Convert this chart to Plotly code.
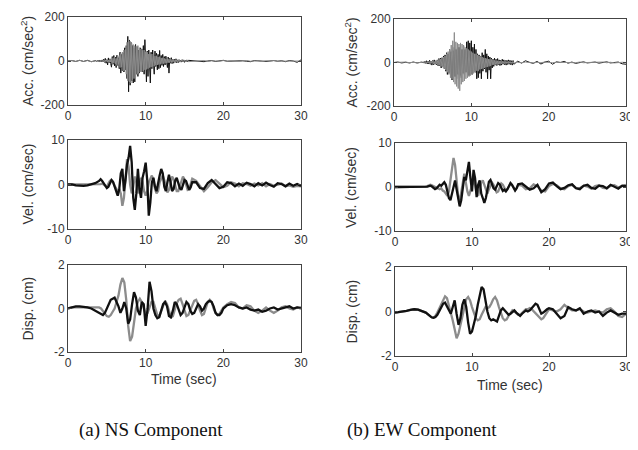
import numpy as np
import plotly.graph_objects as go

# ---------------- time grids (seconds) ----------------
T_ACC = np.concatenate([np.linspace(0, 3.5, 8), np.linspace(3.6, 15.5, 120), np.linspace(16, 30, 29)])
T_VEL = np.concatenate([np.linspace(0, 4, 9), np.linspace(4.2, 16, 60), np.linspace(16.5, 30, 28)])
T_DISP = np.concatenate([np.linspace(0, 4, 9), np.linspace(4.25, 20, 64), np.linspace(20.5, 30, 20)])

# ---------------- NS acceleration (cm/sec^2) ----------------
NS_ACC_BLACK = [0, 2, -2, 3, -2, 3, -3, 4,
    2, -3, 3, -2, 4, -3, 2, -4, 5, -3,
    8, -6, 12, -10, 6, -18, 14, -8, 10, -12,
    -28, 20, -15, 25, -22, 18, -30, 26, -20, 15,
    -35, 40, -55, 30, -45, 38, -50, 60, -40, 70,
    -80, 112, -140, 95, -110, 85, -90, 70, -100, 60,
    -95, 75, -60, 65, -70, 50, -55, 60, -45, 55,
    -50, 70, -60, 97, -40, -95, 45, -70, 50, -45,
    -100, 40, -35, 50, -30, -60, 45, -25, 35, -40,
    30, -35, 48, -30, 25, -20, 30, -25, 20, -18,
    22, -15, -30, 18, -55, 12, -10, 15, -12, 8,
    -10, 8, -6, 10, -8, 5, -7, 6, -5, 4,
    -5, 6, -4, 5, -6, 4, -3, 5, -4, 3,
    2, -1, 1, -3, 0, 2, -2, 1, 3, -1, 0, -2, 2, 1, -1, -3, 2, 0, 1, -2,
    0, 2, -1, 1, -3, 2, 0, -6, 5]
NS_ACC_GRAY = [0, 2, -2, 3, -2, 2, -3, 2,
    1, -2, 2, -1, 2, -2, 1, -2, 2, -1,
    3, -4, 5, -3, 6, -5, 4, -6, 8, -5,
    10, -12, 15, -10, 18, -14, 12, -20, 22, -16,
    25, -30, 35, -28, 40, -45, 50, -42, 55, -60,
    85, -90, 100, -95, 90, -100, 80, -85, 75, -80,
    70, -75, 65, -60, 70, -55, 60, -50, 55, -50,
    48, -45, 50, -40, 42, -38, 40, -35, 32, -30,
    30, -28, 32, -25, 26, -24, 22, -20, 24, -18,
    18, -16, 20, -15, 14, -12, 15, -12, 12, -10,
    10, -9, 11, -8, 9, -8, 7, -6, 8, -6,
    6, -5, 6, -5, 5, -4, 5, -4, 4, -4,
    4, -3, 4, -3, 3, -3, 4, -3, 3, -3,
    -1, 1, 0, 2, -2, 1, 0, -1, 2, -1, 1, 0, -2, 1, 2, -1, 0, 1, -2, 1,
    0, 2, -1, -1, 1, 0, -2, 1, 0]

# ---------------- EW acceleration (cm/sec^2) ----------------
EW_ACC_BLACK = [0, 2, -2, 1, -2, 2, -2, 3,
    2, -2, 3, -3, 5, -4, 8, -6, 5, -7,
    10, -8, 6, -12, 9, -10, 12, -8, 7, -10,
    12, -15, 18, -14, 20, -25, 22, -18, 30, -28,
    35, -40, 45, -55, 40, -50, 60, -45, 50, -80,
    55, -60, 70, -65, 60, -75, 65, -55, 70, -60,
    65, -70, 60, -50, 75, -55, 60, -45, 95, -50,
    100, -60, 90, -40, 100, -55, 70, -35, 85, -45,
    60, -75, 40, -70, 35, -50, 30, -75, 45, -40,
    35, -30, 60, -45, 40, -75, 30, -35, 25, -75,
    20, -25, 15, -18, 20, -12, 15, -14, 18, -10,
    12, -14, 10, -12, 15, -8, 12, -10, 9, -12,
    10, -9, 12, -8, 10, -10, 8, -12, 9, -8,
    6, -3, 8, 1, -4, 5, -7, 2, 6, -8, 3, 0, 5, -3, 2, -4, 1, 3, -2, 0,
    2, -3, 1, 3, -2, 0, 2, -6, -8]
EW_ACC_GRAY = [0, 1, -1, 2, -1, 1, -2, 1,
    1, -1, 2, -2, 1, -2, 3, -2, 2, -3,
    4, -5, 6, -4, 7, -6, 5, -8, 9, -7,
    10, -12, 14, -11, 16, -18, 20, -22, 25, -28,
    30, -35, 40, -45, 50, -55, 60, -70, 80, -75,
    100, -90, 138, -100, 95, -110, 90, -120, 85, -130,
    90, -100, 85, -90, 80, -85, 70, -75, 65, -70,
    60, -65, 55, -60, 50, -55, 45, -50, 40, -45,
    40, -38, 35, -40, 30, -32, 28, -30, 25, -28,
    22, -25, 20, -22, 18, -20, 16, -18, 15, -16,
    14, -12, 12, -11, 10, -10, 9, -9, 8, -8,
    7, -7, 6, -6, 6, -5, 5, -5, 5, -5,
    4, -4, 5, -4, 4, -4, 3, -4, 4, -3,
    1, -1, 2, 0, -2, 1, -1, 2, 0, -1, 1, 1, -2, 0, 1, -1, 2, -1, 0, 1,
    -1, 0, 2, -1, 1, -2, 0, 1, 0]

# ---------------- NS velocity (cm/sec) ----------------
NS_VEL_BLACK = [0, 0, -0.2, -0.3, -0.3, -0.2, 0, 0.3, 0.8,
    1.2, 0.8, 0.3, -0.3, -0.8, -0.5, 0.5, 1.0, 0.6, -0.5,
    -1.5, -2.5, -1.0, 2.5, 3.5, -1.5, 1.0, 4.5, 6.0, 8.7,
    5.0, -3.0, -5.7, -2.0, 3.5, -1.0, -3.0, 1.5, 3.0, 4.9,
    1.0, -7.0, -4.0, 0.5, 1.5, -0.5, -1.5, 0.5, 2.0, 3.5,
    2.5, -0.5, -1.5, 0.5, 2.2, 0.5, -1.5, -1.0, 0.8, 1.5,
    0.5, -0.8, -1.2, 0.2, 1.0, 0.8, -0.5, -1.2, -0.6, 0.5,
    0.5, -0.8, -1.0, 0.3, 1.0, 0.2, -0.8, -0.5, 0.5, 0.3,
    -0.4, 0.2, -0.3, 0.4, 0.1, -0.4, 0.3, -0.2, 0.4, -0.1,
    -0.5, 0.3, 0.1, -0.4, 0.2, -0.3, 0.1, -0.3]
NS_VEL_GRAY = [0, 0, 0, 0, 0, 0, 0, 0, 0.1,
    0.1, 0.2, 0.0, -0.3, -0.5, 0.2, 0.8, 1.0, 0.5, -0.3,
    -0.8, -1.5, -1.0, -2.0, -4.8, -3.0, 1.0, 5.7, 4.0, 0.0,
    -2.0, -0.5, 1.8, 0.5, -2.0, -0.5, 1.5, 0.5, -1.5, -2.5,
    -1.5, 0.5, 1.5, 2.0, 1.0, -1.0, -2.0, -1.5, 0.5, 1.5,
    2.0, 1.0, -0.8, -1.8, -1.2, 0.5, 1.8, 1.2, -0.5, -1.5,
    -1.5, -0.5, 0.8, 1.8, 1.2, -0.3, -1.2, -1.0, 0.5, 1.3,
    0.8, -0.5, -1.5, -0.6, 0.5, 1.0, 0.3, -0.6, -0.3, 0.5,
    0.2, -0.4, 0.3, 0.1, -0.3, 0.2, -0.2, 0.3, -0.4, 0.1,
    -0.3, -0.1, 0.2, -0.4, -0.2, -0.5, -0.3, -0.4]

# ---------------- EW velocity (cm/sec) ----------------
EW_VEL_BLACK = [0, 0, 0, 0, 0, 0, 0, 0, 0,
    0.1, 0.2, 0.3, 0.1, -0.2, -0.5, -0.3, 0.2, 0.5, 0.3,
    0.8, 1.1, 0.5, -1.0, -2.5, -3.0, -1.5, 0.5, 1.5, -0.5,
    -2.5, -4.4, -3.0, 0.5, 2.3, 1.5, 3.5, 5.7, 2.0, -1.0,
    3.9, 2.0, -2.3, 0.5, 1.5, -1.5, -2.5, -3.6, -2.5, -0.5,
    1.2, 1.6, 0.8, -0.3, -0.6, 0.3, 0.9, 0.6, -0.4, -0.9,
    -0.6, -1.0, -0.5, 0.4, 0.9, 0.5, -0.3, -0.8, -0.3, 0.6,
    0.8, 0.2, -0.6, -0.3, 0.5, -1.2, -0.5, 0.8, 1.0, 0.2,
    -0.5, -0.2, 0.4, 0.6, -0.3, -0.5, 0.3, 0.5, -0.2, -0.4,
    0.3, 0.2, -0.3, 0.5, 0.1, -0.4, 0.3, 0.2]
EW_VEL_GRAY = [0, 0, 0, 0, 0, 0, 0, 0, 0.1,
    0.2, 0.4, 0.5, 0.4, 0.2, 0.0, -0.2, -0.4, -0.5, -0.3,
    -0.8, -1.0, -1.5, -2.0, -1.0, 1.5, 3.5, 6.6, 5.0, 1.0,
    -2.0, -3.4, -1.0, 1.5, 3.0, 1.0, -1.0, -2.0, -1.0, 0.5,
    1.5, 0.5, -1.5, -2.0, -0.5, 1.0, 1.5, 0.5, -1.0, -1.5,
    -0.5, 0.5, 1.0, 0.5, -0.5, -1.2, -1.0, 0.0, 0.8, 0.5,
    -0.3, -0.8, -0.5, 0.3, 0.8, 0.4, -0.3, -0.7, -0.2, 0.5,
    0.3, -0.5, -0.3, 0.6, 0.2, -0.8, -1.0, 0.2, 0.7, 0.4,
    -0.3, -0.5, 0.2, 0.5, -0.2, -0.3, 0.3, 0.1, -0.4, 0.2,
    0.4, -0.2, -0.3, 0.3, 0.4, -0.1, 0.2, 0.5]

# ---------------- NS displacement (cm) ----------------
NS_DISP_BLACK = [0, 0.05, 0.1, 0.1, 0.08, 0.05, 0.0, -0.1, -0.2,
    -0.25, -0.3, -0.2, 0.0, 0.2, 0.4, 0.45, 0.5,
    0.3, 0.1, -0.2, 0.0, 0.3, 0.0, -0.7, -0.5,
    0.2, 0.75, 0.5, -0.1, -0.3, 0.3, 0.2, -0.8,
    0.0, 1.23, 0.8, 0.0, -0.3, -0.45, -0.4, -0.1,
    0.2, 0.3, 0.1, -0.35, -0.4, -0.1, 0.3, 0.2,
    -0.1, -0.3, -0.2, 0.1, 0.3, 0.2, -0.1, -0.25,
    -0.2, 0.0, 0.2, 0.1, -0.1, 0.0, 0.2, 0.3,
    0.35, 0.3, 0.1, -0.2, -0.3, -0.3, -0.2, 0.0,
    0.15, 0.2, 0.15, 0.05, 0.0, 0.05, -0.05, -0.1, -0.05, -0.15,
    -0.1, 0.0, 0.05, -0.05, 0.0, 0.05, 0.1, 0.0, 0.05, 0.0]
NS_DISP_GRAY = [0, 0.05, 0.05, 0.05, 0.05, 0.05, 0.05, 0.05, 0.05,
    0.0, -0.1, -0.25, -0.35, -0.38, -0.3, -0.15, 0.0,
    0.3, 0.6, 1.1, 1.4, 1.2, 0.4, -0.8, -1.5,
    -1.3, -0.6, 0.0, 0.3, 0.45, 0.3, 0.0, -0.25,
    -0.2, 0.05, 0.3, 0.3, 0.0, -0.3, -0.35, -0.1,
    0.2, 0.35, 0.2, -0.1, -0.4, -0.35, -0.05, 0.25,
    0.4, 0.45, 0.2, -0.1, -0.35, -0.3, -0.05, 0.2,
    0.35, 0.4, 0.2, -0.1, -0.3, -0.25, 0.0, 0.3,
    0.4, 0.3, 0.0, -0.2, -0.3, -0.25, -0.1, 0.05,
    0.2, 0.3, 0.25, 0.05, 0.0, 0.15, 0.1, -0.1, -0.2, -0.1,
    0.05, -0.1, -0.2, -0.1, 0.05, 0.1, 0.0, -0.05, 0.05, 0.05]

# ---------------- EW displacement (cm) ----------------
EW_DISP_BLACK = [-0.05, -0.03, 0.0, 0.03, 0.07, 0.1, 0.08, 0.03, -0.05,
    -0.12, -0.2, -0.26, -0.28, -0.25, -0.15, 0.0, 0.2,
    0.35, 0.4, 0.25, 0.1, -0.1, 0.2, 0.5, -0.1,
    -0.6, -0.3, 0.3, 0.55, 0.2, -0.5, -1.0, -0.9,
    -0.6, -0.2, 0.3, 0.8, 1.1, 1.0, 0.5, 0.0,
    -0.3, -0.4, -0.35, -0.4, -0.45, -0.2, 0.05, 0.15,
    0.05, -0.1, -0.15, -0.1, 0.0, 0.05, -0.05, -0.15,
    -0.2, -0.1, 0.0, 0.05, 0.0, 0.05, 0.15, 0.25,
    0.35, 0.3, 0.1, -0.1, -0.05, 0.05, 0.1, 0.15,
    0.1, -0.1, -0.3, -0.2, 0.2, 0.1, 0.05, 0.15, -0.1, 0.0,
    0.05, -0.05, 0.0, -0.2, -0.05, 0.05, -0.05, -0.15, -0.1, -0.1]
EW_DISP_GRAY = [-0.05, -0.03, 0.0, 0.03, 0.07, 0.1, 0.08, 0.03, -0.05,
    -0.12, -0.2, -0.26, -0.28, -0.2, -0.05, 0.15, 0.3,
    0.5, 0.68, 0.6, 0.3, 0.0, -0.4, -0.8, -1.2,
    -1.0, -0.6, -0.1, 0.3, 0.55, 0.65, 0.5, 0.2,
    -0.1, -0.3, -0.4, -0.35, -0.15, 0.05, 0.2, 0.15,
    0.2, 0.35, 0.55, 0.65, 0.5, 0.2, -0.1, -0.3,
    -0.4, -0.35, -0.2, -0.05, 0.05, 0.0, -0.1, -0.15,
    -0.15, -0.05, 0.05, 0.1, 0.1, 0.15, 0.1, 0.0,
    -0.1, -0.2, -0.3, -0.35, -0.3, -0.15, 0.0, 0.1,
    0.05, 0.0, 0.1, 0.3, 0.15, 0.05, 0.05, 0.1, 0.0, -0.05,
    0.0, 0.05, 0.0, -0.05, 0.1, 0.15, 0.0, -0.2, -0.25, -0.1]

# ---------------- labels ----------------
X_TICKS = [0, 10, 20, 30]
ACC_TICKS = [-200, 0, 200]
VEL_TICKS = [-10, 0, 10]
DISP_TICKS = [-2, 0, 2]
Y_TITLES = ["Acc. (cm/sec<sup>2</sup>)", "Vel. (cm/sec)", "Disp. (cm)"]
X_TITLE = "Time (sec)"
CAPTIONS = ["(a) NS Component", "(b) EW Component"]

for name, t, arr in [("NS_ACC_BLACK", T_ACC, NS_ACC_BLACK), ("NS_ACC_GRAY", T_ACC, NS_ACC_GRAY),
                     ("EW_ACC_BLACK", T_ACC, EW_ACC_BLACK), ("EW_ACC_GRAY", T_ACC, EW_ACC_GRAY),
                     ("NS_VEL_BLACK", T_VEL, NS_VEL_BLACK), ("NS_VEL_GRAY", T_VEL, NS_VEL_GRAY),
                     ("EW_VEL_BLACK", T_VEL, EW_VEL_BLACK), ("EW_VEL_GRAY", T_VEL, EW_VEL_GRAY),
                     ("NS_DISP_BLACK", T_DISP, NS_DISP_BLACK), ("NS_DISP_GRAY", T_DISP, NS_DISP_GRAY),
                     ("EW_DISP_BLACK", T_DISP, EW_DISP_BLACK), ("EW_DISP_GRAY", T_DISP, EW_DISP_GRAY)]:
    assert len(t) == len(arr), f"{name}: {len(arr)} vs {len(t)}"

# the page body has an 8px default margin: the figure starts at (8, 8) of the window
OFF = 8
W, H = 638 - OFF, 450 - OFF
BLACK = "#111111"
GRAY = "#8c8c8c"
AXCOL = "#444444"
TXT = "#333333"


def px(x):
    return (x - OFF) / W


def py(y):
    return 1 - (y - OFF) / H


# panel geometry in window pixels: (left, right, top, bottom)
PANELS = [
    (68, 301, 17, 105), (394, 626, 19, 106),
    (68, 301, 140, 229), (395, 626, 143, 231),
    (68, 301, 265, 352), (395, 626, 267, 356),
]

fig = go.Figure()

series = [
    (T_ACC, NS_ACC_BLACK, NS_ACC_GRAY, 1.0),
    (T_ACC, EW_ACC_BLACK, EW_ACC_GRAY, 1.0),
    (T_VEL, NS_VEL_BLACK, NS_VEL_GRAY, 2.3),
    (T_VEL, EW_VEL_BLACK, EW_VEL_GRAY, 2.3),
    (T_DISP, NS_DISP_BLACK, NS_DISP_GRAY, 2.3),
    (T_DISP, EW_DISP_BLACK, EW_DISP_GRAY, 2.3),
]
for i, (t, b, g, lw) in enumerate(series):
    ax = "" if i == 0 else str(i + 1)
    if i < 2:
        order = [(b, BLACK), (g, GRAY)]
    else:
        order = [(g, GRAY), (b, BLACK)]
    for arr, col in order:
        fig.add_trace(go.Scatter(x=t, y=arr, mode="lines", xaxis="x" + ax, yaxis="y" + ax,
                                 line=dict(color=col, width=lw), showlegend=False, hoverinfo="skip"))

yticks = [ACC_TICKS, ACC_TICKS, VEL_TICKS, VEL_TICKS, DISP_TICKS, DISP_TICKS]
layout = dict(width=W, height=H, margin=dict(l=0, r=0, t=0, b=0, pad=0, autoexpand=False),
              paper_bgcolor="white", plot_bgcolor="white", showlegend=False,
              font=dict(family="Liberation Sans, Arial, sans-serif", size=12, color=TXT))
for i, (l, r, tp, bt) in enumerate(PANELS):
    ax = "" if i == 0 else str(i + 1)
    common = dict(showline=True, linecolor=AXCOL, linewidth=1, mirror="ticks",
                  ticks="inside", ticklen=3, tickcolor=AXCOL, showgrid=False, zeroline=False,
                  automargin=False, tickfont=dict(size=12, color=TXT))
    layout["xaxis" + ax] = dict(domain=[px(l), px(r)], anchor="y" + ax, range=[0, 30],
                                tickvals=X_TICKS, ticktext=[str(v) for v in X_TICKS], **common)
    yt = yticks[i]
    layout["yaxis" + ax] = dict(domain=[py(bt), py(tp)], anchor="x" + ax,
                                range=[yt[0], yt[-1]], tickvals=yt,
                                ticktext=[str(v) for v in yt], **common)
fig.update_layout(**layout)

# y-axis titles
for i, (l, r, tp, bt) in enumerate(PANELS):
    xc = 27 if i % 2 == 0 else 351
    fig.add_annotation(x=px(xc), y=py((tp + bt) / 2), xref="paper", yref="paper",
                       text=Y_TITLES[i // 2], textangle=-90, showarrow=False,
                       font=dict(size=14, color=TXT), xanchor="center", yanchor="middle")
# x-axis titles
for xc, yc in [(184, 379), (510, 385)]:
    fig.add_annotation(x=px(xc), y=py(yc), xref="paper", yref="paper", text=X_TITLE,
                       showarrow=False, font=dict(size=14, color=TXT),
                       xanchor="center", yanchor="middle")
# captions
for xc, txt in [(151, CAPTIONS[0]), (422, CAPTIONS[1])]:
    fig.add_annotation(x=px(xc), y=py(430), xref="paper", yref="paper", text=txt,
                       showarrow=False, font=dict(family="Liberation Serif, Times New Roman, serif",
                                                  size=19, color="#111111"),
                       xanchor="center", yanchor="middle")

fig.write_html("out.html")
